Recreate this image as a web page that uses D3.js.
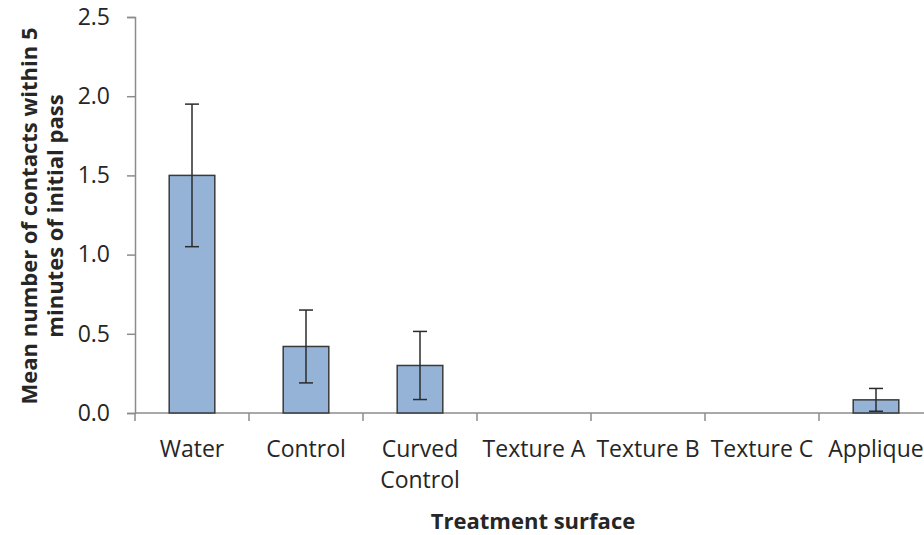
<!DOCTYPE html>
<html>
<head>
<meta charset="utf-8">
<script src="https://cdn.jsdelivr.net/npm/d3@7"></script>
<style>
  html, body { margin: 0; padding: 0; background: #fff; }
  svg { display: block; }
  text { font-family: "Open Sans", Lato, sans-serif; fill: #262626; }
</style>
</head>
<body>
<svg id="chart" width="924" height="535"></svg>
<script>
// Treatment surfaces and mean contacts (± error) within 5 minutes of the initial pass
const categories = ["Water", "Control", "Curved Control", "Texture A", "Texture B", "Texture C", "Applique"];
const meanContacts = [1.5, 0.42, 0.3, 0, 0, 0, 0.083];
const errorValues = [0.45, 0.23, 0.215, 0, 0, 0, 0.072];
const yTicks = [0, 0.5, 1.0, 1.5, 2.0, 2.5];

const svg = d3.select("#chart");
const plotLeft = 135, plotTop = 17, plotBottom = 413, plotRight = 933;
const labelFont = "'Open Sans', Lato, sans-serif";

const x = d3.scaleBand().domain(categories).range([plotLeft, plotRight]).paddingInner(0.6).paddingOuter(0.3);
const y = d3.scaleLinear().domain([0, 2.5]).range([plotBottom, plotTop]);

const axisColor = "#8c8c8c";

// Y axis
const yAxis = svg.append("g").attr("transform", `translate(${plotLeft},0)`)
  .call(d3.axisLeft(y).tickValues(yTicks).tickFormat(d3.format(".1f")).tickSize(8).tickPadding(17));
yAxis.select(".domain").attr("stroke", axisColor).attr("stroke-width", 1.5);
yAxis.selectAll(".tick line").attr("stroke", axisColor).attr("stroke-width", 1.5);
yAxis.selectAll(".tick text").attr("font-size", 23).attr("font-family", labelFont).attr("fill", "#262626");

// X axis: ticks on category boundaries
const step = x.step();
const boundaries = d3.range(categories.length + 1).map(i => plotLeft + i * step);
svg.append("line").attr("x1", plotLeft).attr("x2", 924).attr("y1", plotBottom).attr("y2", plotBottom)
  .attr("stroke", axisColor).attr("stroke-width", 1.5);
svg.selectAll(".xtick").data(boundaries).join("line").attr("class", "xtick")
  .attr("x1", d => d).attr("x2", d => d).attr("y1", plotBottom).attr("y2", plotBottom + 8)
  .attr("stroke", axisColor).attr("stroke-width", 1.5);

// Category labels
const labelLines = { "Curved Control": ["Curved", "Control"] };
categories.forEach(c => {
  const lines = labelLines[c] || [c];
  const cx = x(c) + x.bandwidth() / 2;
  const t = svg.append("text").attr("text-anchor", "middle").attr("font-size", 23)
    .attr("x", cx).attr("y", 456.5);
  lines.forEach((l, i) => t.append("tspan").attr("x", cx).attr("dy", i ? 31 : 0).text(l));
});

// Bars
svg.selectAll(".bar").data(categories).join("rect").attr("class", "bar")
  .attr("x", d => x(d)).attr("width", x.bandwidth())
  .attr("y", (d, i) => y(meanContacts[i]))
  .attr("height", (d, i) => y(0) - y(meanContacts[i]))
  .attr("fill", (d, i) => meanContacts[i] > 0 ? "#95b3d7" : "none")
  .attr("stroke", (d, i) => meanContacts[i] > 0 ? "#3a3a3a" : "none")
  .attr("stroke-width", 1.5);

// Error bars
const errG = svg.append("g").attr("stroke", "#2b2b2b").attr("stroke-width", 1.5);
categories.forEach((c, i) => {
  if (meanContacts[i] <= 0) return;
  const cx = x(c) + x.bandwidth() / 2;
  const hi = meanContacts[i] + errorValues[i];
  const lo = Math.max(0, meanContacts[i] - errorValues[i]);
  errG.append("line").attr("x1", cx).attr("x2", cx).attr("y1", y(hi)).attr("y2", y(lo));
  errG.append("line").attr("x1", cx - 7).attr("x2", cx + 7).attr("y1", y(hi)).attr("y2", y(hi));
  if (lo > 0) errG.append("line").attr("x1", cx - 7).attr("x2", cx + 7).attr("y1", y(lo)).attr("y2", y(lo));
});

// Axis titles
svg.append("text").attr("text-anchor", "middle").attr("font-size", 22).attr("font-weight", "bold")
  .attr("x", 533).attr("y", 529).text("Treatment surface");

const yt = svg.append("text").attr("text-anchor", "middle").attr("font-size", 22).attr("font-weight", "bold")
  .attr("transform", "translate(0,216) rotate(-90)");
yt.append("tspan").attr("x", 0).attr("y", 37).text("Mean number of contacts within 5");
yt.append("tspan").attr("x", 0).attr("y", 63).text("minutes of initial pass");
</script>
</body>
</html>
